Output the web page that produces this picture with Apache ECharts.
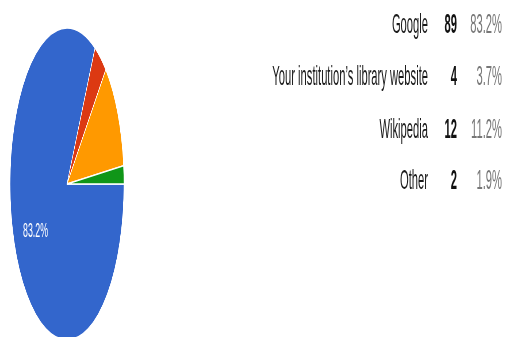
<!DOCTYPE html>
<html><head><meta charset="utf-8">
<script src="https://cdn.jsdelivr.net/npm/echarts@6/dist/echarts.min.js"></script>
<style>
html,body{margin:0;padding:0;width:506px;height:337px;overflow:hidden;background:#fff;}
#pie{position:absolute;left:-93px;top:24px;width:320px;height:320px;transform:scaleX(0.365);transform-origin:160px 160px;}
#txt{position:absolute;left:0;top:0;width:506px;height:337px;}
</style></head><body>
<div id="pie"></div><div id="txt"></div>
<script>
const categories = ["Google", "Your institution\u2019s library website", "Wikipedia", "Other"];
const counts = [89, 4, 12, 2];
const colors = ['#3366cc', '#dc3912', '#ff9900', '#109618'];

const total = counts.reduce((a, b) => a + b, 0);
const pct = counts.map(v => (v / total * 100).toFixed(1) + '%');

const pie = echarts.init(document.getElementById('pie'), null, {renderer: 'canvas'});
pie.setOption({
  animation: false,
  series: [{
    type: 'pie',
    silent: true,
    center: ['50%', '50%'],
    radius: 156,
    startAngle: 0,
    clockwise: true,
    label: {show: false},
    labelLine: {show: false},
    itemStyle: {borderColor: '#fff', borderWidth: 1.5},
    data: categories.map((c, i) => ({name: c, value: counts[i], itemStyle: {color: colors[i]}}))
  }]
});

const txt = echarts.init(document.getElementById('txt'));
const rowY = [25, 77, 130, 181];
const sx = 0.40;
const g = [];
categories.forEach((c, i) => {
  g.push({type: 'text', x: 428, y: rowY[i], scaleX: sx, style: {text: c, align: 'right', verticalAlign: 'middle', font: '28px "Liberation Sans", Arial', fill: '#1a1a1a'}});
  g.push({type: 'text', x: 457, y: rowY[i], scaleX: sx, style: {text: String(counts[i]), align: 'right', verticalAlign: 'middle', font: 'bold 28px "Liberation Sans", Arial', fill: '#111'}});
  g.push({type: 'text', x: 502, y: rowY[i], scaleX: sx, style: {text: pct[i], align: 'right', verticalAlign: 'middle', font: '28px "Liberation Sans", Arial', fill: '#777'}});
});
g.push({type: 'text', x: 35.5, y: 231, scaleX: 0.44, style: {text: pct[0], align: 'center', verticalAlign: 'middle', font: '20px "Liberation Sans", Arial', fill: '#fff'}});
txt.setOption({animation: false, graphic: g});
</script>
</body></html>
